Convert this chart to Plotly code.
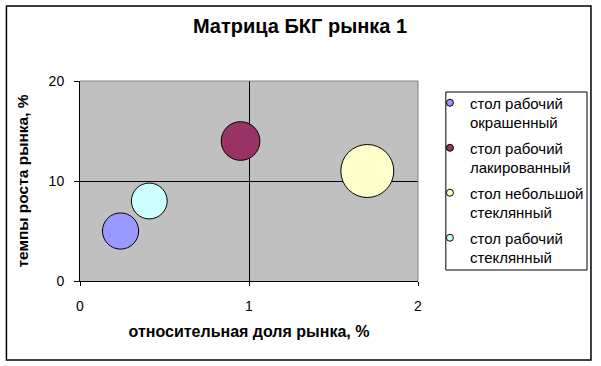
import plotly.graph_objects as go

# ---- data ----
products = ["стол рабочий<br>окрашенный", "стол рабочий<br>лакированный",
            "стол небольшой<br>стеклянный", "стол рабочий<br>стеклянный"]
market_share = [0.24, 0.95, 1.70, 0.41]      # относительная доля рынка
growth_rate = [5.0, 14.0, 11.0, 8.0]         # темпы роста рынка
volume = [1.4, 1.6, 3.0, 1.37]               # размер пузырька
colors = ["#9999FF", "#993366", "#FFFFCC", "#CCFFFF"]
x_ticks = [0, 1, 2]
y_ticks = [0, 10, 20]

FONT = "Liberation Sans, Arial, sans-serif"
W, H = 601, 366
L, R, T, B = 80, 181, 81, 85
pw, ph = W - L - R, H - T - B

def px(xp):  # pixel -> paper x
    return (xp - L) / pw

def py(yp):  # pixel -> paper y
    return (H - B - yp) / ph

sizeref = 2.0 * max(volume) / 53.0 ** 2

fig = go.Figure()
for name, xv, yv, sv, c in zip(products, market_share, growth_rate, volume, colors):
    fig.add_trace(go.Scatter(
        x=[xv], y=[yv], mode="markers", showlegend=False, name=name,
        marker=dict(size=[sv], sizemode="area", sizeref=sizeref, color=c,
                    line=dict(color="black", width=1), opacity=1),
        hoverinfo="skip"))
# legend entries
for name, c in zip(products, colors):
    fig.add_trace(go.Scatter(
        x=[None], y=[None], mode="markers", name=name, legendgroup=name,
        marker=dict(size=7, color=c, line=dict(color="black", width=1))))

fig.update_layout(
    width=W, height=H,
    margin=dict(l=L, r=R, t=T, b=B),
    paper_bgcolor="white", plot_bgcolor="#C0C0C0",
    font=dict(family=FONT, size=14, color="black"),
    title=dict(text="<b>Матрица БКГ рынка 1</b>", x=300 / W, xanchor="center",
               y=1 - 26 / H, yanchor="middle", font=dict(size=20)),
    xaxis=dict(range=[0, 2], tickvals=x_ticks, showgrid=True, gridcolor="black", gridwidth=1,
               zeroline=False, showline=True, linecolor="black", linewidth=1,
               ticks="outside", ticklen=4, tickcolor="black", ticklabelstandoff=8,
               title=dict(text="<b>относительная доля рынка, %</b>", font=dict(size=16), standoff=13),
               fixedrange=True),
    yaxis=dict(range=[0, 20], tickvals=y_ticks, showgrid=True, gridcolor="black", gridwidth=1,
               zeroline=False, showline=True, linecolor="black", linewidth=1,
               ticks="outside", ticklen=5, tickcolor="black", ticklabelstandoff=7,
               title=dict(text="<b>темпы роста рынка, %</b>", font=dict(size=15.5), standoff=16),
               fixedrange=True),
    legend=dict(x=px(432), y=py(86.5), xanchor="left", yanchor="top",
                bgcolor="rgba(0,0,0,0)", borderwidth=0, valign="top",
                traceorder="grouped", tracegroupgap=3,
                font=dict(size=15), itemsizing="trace"),
    shapes=[
        # outer chart border
        dict(type="rect", xref="paper", yref="paper", x0=px(6), x1=px(594), y0=py(360), y1=py(6),
             line=dict(color="black", width=1.5), fillcolor="rgba(0,0,0,0)", layer="below"),
        # plot area top/right border
        dict(type="line", xref="paper", yref="paper", x0=0, x1=1, y0=1, y1=1,
             line=dict(color="#808080", width=1), layer="above"),
        dict(type="line", xref="paper", yref="paper", x0=1, x1=1, y0=0, y1=1,
             line=dict(color="#808080", width=1), layer="above"),
        # legend box
        dict(type="rect", xref="paper", yref="paper", x0=px(448), x1=px(590), y0=py(270), y1=py(92),
             line=dict(color="black", width=1), fillcolor="rgba(0,0,0,0)", layer="below"),
    ],
)

fig.write_html("out.html", config={"displayModeBar": False, "staticPlot": True},
               post_script="document.body.style.margin='0';document.body.style.overflow='hidden';")
